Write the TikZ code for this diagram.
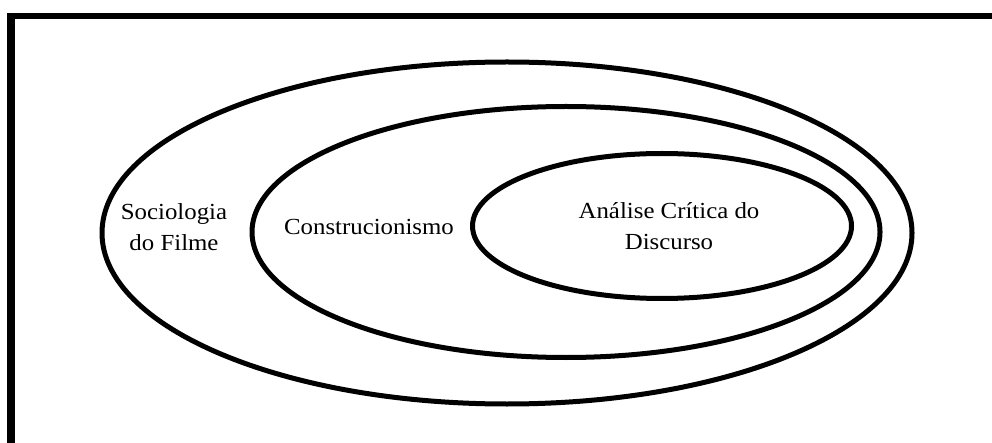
\documentclass[tikz,border=0pt]{standalone}
\usepackage{fontspec}
\setmainfont{Liberation Serif}[FakeStretch=1.08]
\usetikzlibrary{positioning,shapes.geometric}

\begin{document}
\begin{tikzpicture}[
  x=1pt,y=-1pt,
  field/.style={draw,ellipse,line width=5pt,inner sep=0pt},
  lbl/.style={align=center,font=\fontsize{23}{31}\selectfont,inner sep=0pt}
]
  \useasboundingbox (0,0) rectangle (992,443);
  % frame
  \draw[line width=8pt] (11,443) -- (11,13);
  \draw[line width=6pt] (7,16) -- (992,16);
  % nested fields
  \node[field,minimum width=810pt,minimum height=342pt] (socio) at (507,233) {};
  \node[field,minimum width=628pt,minimum height=251pt] (constr) at (566,232) {};
  \node[field,minimum width=379pt,minimum height=145pt] (acd) at (662,226) {};
  \node[lbl] (sociotxt) at (174,227) {Sociologia\\do Filme};
  \node[lbl] (constrtxt) at (369,227) {Construcionismo};
  \node[lbl] (acdtxt) at (669,226) {Análise Crítica do\\Discurso};
\end{tikzpicture}
\end{document}
